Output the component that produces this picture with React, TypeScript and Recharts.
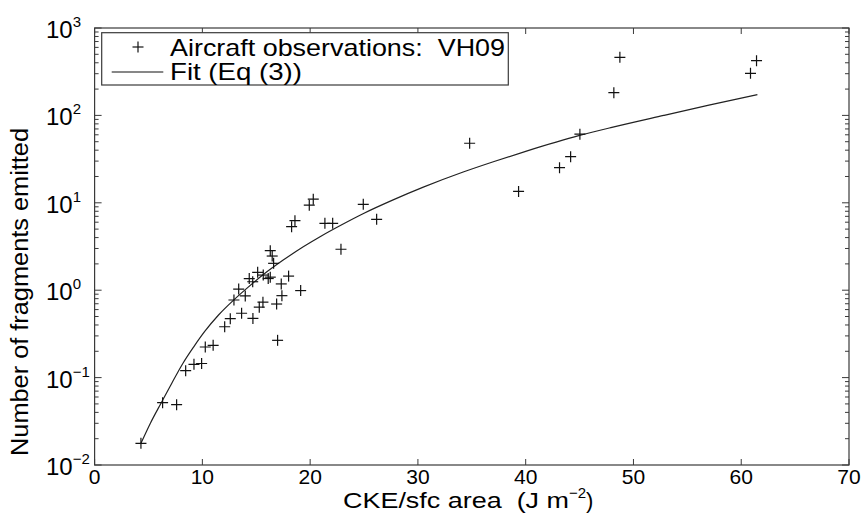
import React from 'react';
import { ComposedChart, Scatter, Line, XAxis, YAxis, Legend } from 'recharts';

const W = 862;
const H = 514;
const PL = 94.6;
const PR = 849;
const PT = 28;
const PB = 465;
const AX = '#3a3a3a';
const FONT = '"Liberation Sans", Arial, Helvetica, sans-serif';

// Aircraft observations (VH09)
const obsX = [4.3, 6.31, 7.61, 8.45, 9.22, 9.93, 10.27, 11.0, 12.07, 12.59, 12.93, 13.37, 13.64, 13.98, 14.35, 14.67, 14.69, 15.13, 15.28, 15.62, 15.65, 16.11, 16.3, 16.3, 16.48, 16.61, 16.89, 16.98, 17.32, 17.38, 18.0, 18.28, 18.59, 19.12, 19.92, 20.29, 21.37, 22.09, 22.86, 24.93, 26.17, 34.8, 39.34, 43.14, 44.17, 45.03, 48.18, 48.74, 60.86, 61.42];
const obsY = [0.0177, 0.0516, 0.049, 0.12, 0.142, 0.145, 0.224, 0.234, 0.382, 0.472, 0.772, 1.03, 0.545, 0.86, 1.36, 1.25, 0.476, 1.6, 0.64, 0.73, 1.49, 1.36, 1.41, 2.83, 2.46, 2.03, 0.695, 0.267, 1.18, 0.866, 1.45, 5.33, 6.25, 0.99, 9.4, 11.0, 5.82, 5.82, 2.94, 9.6, 6.47, 48, 13.5, 25.2, 33.7, 61, 182, 462, 303, 423];

// Fit (Eq (3))
const fitX = [4.3, 5.2, 6.2, 7.2, 8.2, 9.2, 10.2, 11.5, 12.9, 14.2, 15.6, 17.5, 19.4, 21, 22.8, 25, 27.7, 30.5, 34.2, 37, 40, 45, 48, 52.8, 57, 61.5];
const fitY = [0.0177, 0.0305, 0.052, 0.088, 0.146, 0.225, 0.335, 0.52, 0.77, 1.07, 1.49, 2.21, 3.16, 4.15, 5.5, 7.6, 10.8, 15.1, 22.5, 29.5, 38.8, 59, 73, 100, 131, 173];

const xTicks = [0, 10, 20, 30, 40, 50, 60, 70];
const yExponents = [-2, -1, 0, 1, 2, 3];
const yMinorMultipliers = [2, 3, 4, 5, 6, 7, 8, 9];

const yTicks: number[] = [];
yExponents.forEach((e) => {
  yTicks.push(Math.pow(10, e));
  if (e < 3) yMinorMultipliers.forEach((m) => yTicks.push(m * Math.pow(10, e)));
});

const obsData = obsX.map((x, i) => ({ x, y: obsY[i] }));
const fitData = fitX.map((x, i) => ({ x, y: fitY[i] }));

const PRE = { whiteSpace: 'pre' as const };

const Plus = (props: any) => {
  const { cx, cy } = props;
  if (cx == null || cy == null) return null;
  const h = 5.5;
  return (
    <g>
      <line x1={cx - h} x2={cx + h} y1={cy} y2={cy} stroke="#111" strokeWidth={1.2} />
      <line x1={cx} x2={cx} y1={cy - h} y2={cy + h} stroke="#111" strokeWidth={1.2} />
    </g>
  );
};

const XTick = (props: any) => {
  const { x, payload, index } = props;
  return (
    <g>
      {index === 0 && (
        <g>
          <rect x={PL} y={PT} width={PR - PL} height={PB - PT} fill="none" stroke={AX} strokeWidth={1.2} />
          <text
            transform={`translate(28,292) rotate(-90)`}
            textAnchor="middle"
            fontSize={23}
            fontFamily={FONT}
            fill="#000"
            textLength={328}
            lengthAdjust="spacingAndGlyphs"
          >
            Number of fragments emitted
          </text>
          <text
            x={343}
            y={508}
            fontSize={22}
            fontFamily={FONT}
            fill="#000"
            style={PRE}
          >
            <tspan textLength={226} lengthAdjust="spacingAndGlyphs">CKE/sfc area  (J m</tspan>
            <tspan dy={-10} fontSize={15}>−2</tspan>
            <tspan dy={10}>)</tspan>
          </text>
        </g>
      )}
      <line x1={x} x2={x} y1={PB} y2={PB - 6} stroke={AX} />
      <line x1={x} x2={x} y1={PT} y2={PT + 6} stroke={AX} />
      <text x={x} y={484} textAnchor="middle" fontSize={21} fontFamily={FONT} fill="#000">
        {payload.value}
      </text>
    </g>
  );
};

const YTick = (props: any) => {
  const { y, payload } = props;
  const v = payload.value;
  const e = Math.round(Math.log10(v));
  const major = Math.abs(v - Math.pow(10, e)) < 1e-9 * v;
  const len = major ? 7 : 4;
  const sup = e < 0 ? '−' + -e : String(e);
  return (
    <g>
      <line x1={PL} x2={PL + len} y1={y} y2={y} stroke={AX} />
      <line x1={PR - len} x2={PR} y1={y} y2={y} stroke={AX} />
      {major && (
        <text x={46} y={y + 10} fontSize={24} fontFamily={FONT} fill="#000">
          10<tspan dy={-11} fontSize={15}>{sup}</tspan>
        </text>
      )}
    </g>
  );
};

const LegendBox = () => (
  <svg width={W} height={H} style={{ position: 'absolute', left: 0, top: 0, pointerEvents: 'none' }}>
    <rect x={101.7} y={32.7} width={406.6} height={52.3} fill="#fff" stroke={AX} strokeWidth={1.2} />
    <line x1={132.5} x2={143.5} y1={47} y2={47} stroke="#111" strokeWidth={1.2} />
    <line x1={138} x2={138} y1={41.5} y2={52.5} stroke="#111" strokeWidth={1.2} />
    <text x={170} y={55.5} fontSize={24} fontFamily={FONT} fill="#000" style={PRE} textLength={335} lengthAdjust="spacingAndGlyphs">
      {'Aircraft observations:  VH09'}
    </text>
    <line x1={111.7} x2={163.3} y1={72} y2={72} stroke="#111" strokeWidth={1.2} />
    <text x={170} y={80} fontSize={24} fontFamily={FONT} fill="#000" style={PRE} textLength={132} lengthAdjust="spacingAndGlyphs">
      {'Fit (Eq (3))'}
    </text>
  </svg>
);

export default function App() {
  return (
    <div style={{ position: 'absolute', left: 0, top: 0, width: W, height: H, background: '#fff' }}>
      <ComposedChart width={W} height={H} margin={{ top: PT, right: W - PR, bottom: 0, left: 0 }}>
        <XAxis
          dataKey="x"
          type="number"
          domain={[0, 70]}
          ticks={xTicks}
          interval={0}
          height={H - PB}
          axisLine={false}
          tickLine={false}
          tick={<XTick />}
          allowDataOverflow
        />
        <YAxis
          dataKey="y"
          type="number"
          scale="log"
          domain={[0.01, 1000]}
          ticks={yTicks}
          interval={0}
          width={PL}
          axisLine={false}
          tickLine={false}
          tick={<YTick />}
          allowDataOverflow
        />
        <Line
          data={fitData}
          dataKey="y"
          type="monotone"
          stroke="#222"
          strokeWidth={1.2}
          dot={false}
          activeDot={false}
          isAnimationActive={false}
          legendType="line"
        />
        <Scatter data={obsData} dataKey="y" shape={<Plus />} isAnimationActive={false} />
        <Legend
          layout="horizontal"
          verticalAlign="middle"
          align="center"
          content={<LegendBox />}
          wrapperStyle={{ position: 'absolute', left: 0, top: 0, width: W, height: H, pointerEvents: 'none' }}
        />
      </ComposedChart>
    </div>
  );
}
